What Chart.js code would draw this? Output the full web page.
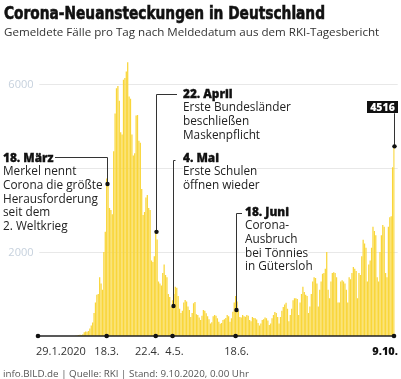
<!DOCTYPE html>
<html lang="de">
<head>
<meta charset="utf-8">
<title>Corona-Neuansteckungen in Deutschland</title>
<script src="https://cdn.jsdelivr.net/npm/chart.js@4/dist/chart.umd.min.js"></script>
<style>
  html, body { margin: 0; padding: 0; background: #fff; }
  #wrap { position: relative; width: 401px; height: 379px; overflow: hidden; font-family: "Open Sans", sans-serif; color: #222; }
  #wrap canvas { position: absolute; left: 0; top: 0; }
  .t { position: absolute; white-space: nowrap; margin: 0; }
  #title { left: 4px; top: 3.5px; font: 800 18.5px/18px "Liberation Sans Narrow", "DejaVu Sans Condensed", "Roboto", sans-serif; color: #111; transform-origin: 0 0; -webkit-text-stroke: 0.6px #111; }
  #sub { left: 4px; top: 25px; font-size: 11.6px; line-height: 13px; color: #333; }
  #foot { left: 3px; top: 367.5px; font-size: 9.8px; line-height: 11px; color: #555; }
  .note { font-size: 11.8px; line-height: 13.7px; color: #222; }
  .note span { display: block; width: fit-content; background: #fff; }
  .note b { display: block; width: fit-content; background: #fff; color: #111; font-weight: 800; -webkit-text-stroke: 0.3px #111; }
  #last { left: 367px; top: 101px; width: 31px; height: 12px; background: #111; color: #fff; font: 800 10.5px/12px "Open Sans", sans-serif; text-align: center; }
</style>
</head>
<body>
<div id="wrap">
  <canvas id="chart"></canvas>
  <h1 class="t" id="title">Corona-Neuansteckungen in Deutschland</h1>
  <div class="t" id="sub">Gemeldete Fälle pro Tag nach Meldedatum aus dem RKI-Tagesbericht</div>
  <div class="t note" style="left:3px;top:150.5px"><b>18. März</b><span>Merkel nennt</span><span>Corona die größte</span><span>Herausforderung</span><span>seit dem</span><span>2. Weltkrieg</span></div>
  <div class="t note" style="left:183px;top:86.5px"><b>22. April</b><span>Erste Bundesländer</span><span>beschließen</span><span>Maskenpflicht</span></div>
  <div class="t note" style="left:183px;top:150.5px"><b>4. Mai</b><span>Erste Schulen</span><span>öffnen wieder</span></div>
  <div class="t note" style="left:245px;top:204.5px"><b>18. Juni</b><span>Corona-</span><span>Ausbruch</span><span>bei Tönnies</span><span>in Gütersloh</span></div>
  <div class="t" id="last">4516</div>
  <div class="t" id="foot">info.BILD.de | Quelle: RKI | Stand: 9.10.2020, 0.00 Uhr</div>
</div>
<script>
'use strict';

/* Fälle pro Tag (29.1. – 9.10.2020) */
const casesJan = [2, 0, 1]; // ab 29.1.
const casesFeb = [1, 0, 2, 1, 0, 1, 0, 0, 0, 0, 2, 0, 0, 0, 0, 0, 0, 0, 0, 0, 0, 0, 0, 2, 4, 12, 25, 30, 20];
const casesMar = [40, 90, 110, 100, 120, 180, 250, 320, 550, 800, 980, 1000, 1400, 1250, 1100, 2000,
  2480, 3750, 3600, 3050, 3000, 2900, 4400, 5300, 5900, 5950, 5600, 4850, 4800, 6100, 6140];
const casesApr = [6300, 6520, 5700, 5650, 4800, 4300, 4350, 5250, 5260, 4650, 4600, 3500, 2880, 2950, 3300,
  3360, 3050, 3000, 1800, 1760, 1900, 2480, 2300, 1300, 1250, 1200, 1500, 1700, 1450, 1400];
const casesMay = [1000, 930, 700, 850, 1000, 1170, 1150, 950, 650, 550, 600, 800, 860, 820, 700, 620,
  450, 550, 780, 810, 520, 500, 440, 380, 480, 620, 600, 540, 470, 400, 300];
const casesJun = [330, 470, 500, 480, 420, 340, 290, 310, 380, 400, 430, 500, 470, 340, 420, 580, 800,
  950, 820, 600, 450, 440, 500, 470, 460, 500, 480, 380, 350, 450];
const casesJul = [430, 420, 390, 310, 250, 300, 380, 400, 440, 420, 370, 260, 300, 420, 500, 570, 550,
  450, 300, 450, 600, 690, 750, 790, 650, 350, 500, 650, 850, 900, 900];
const casesAug = [880, 500, 800, 1000, 1170, 1050, 980, 950, 550, 700, 1000, 1300, 1400, 1380, 1250, 700,
  1100, 1300, 1480, 1500, 1600, 2000, 1100, 900, 1300, 1500, 1520, 1500, 1400, 800, 800];
const casesSep = [1300, 1330, 1300, 1250, 1100, 800, 1400, 1350, 1500, 1640, 1600, 1550, 900, 1500, 1450,
  1900, 2290, 2200, 2100, 1300, 1700, 1800, 2100, 2600, 2500, 2400, 1400, 1300, 2000, 2400];
const casesOct = [2640, 2600, 1500, 1400, 2600, 2830, 2850, 4020, 4516]; // bis 9.10.

const months = [
  { m: 1, first: 29, data: casesJan },
  { m: 2, first: 1, data: casesFeb },
  { m: 3, first: 1, data: casesMar },
  { m: 4, first: 1, data: casesApr },
  { m: 5, first: 1, data: casesMay },
  { m: 6, first: 1, data: casesJun },
  { m: 7, first: 1, data: casesJul },
  { m: 8, first: 1, data: casesAug },
  { m: 9, first: 1, data: casesSep },
  { m: 10, first: 1, data: casesOct },
];

const days = [];
const cases = [];
months.forEach((mo) => {
  mo.data.forEach((v, i) => { days.push(`${mo.first + i}.${mo.m}.`); cases.push(v); });
});

/* Achsenbeschriftungen */
const tickDays = ['29.1.', '18.3.', '22.4.', '4.5.', '18.6.', '9.10.'];
const tickTexts = ['29.1.2020', '18.3.', '22.4.', '4.5.', '18.6.', '9.10.'];
const yTicks = [2000, 4000, 6000];

/* Ereignisse: Tag und Höhe des Markierungspunkts */
const eventDays = ['18.3.', '22.4.', '4.5.', '18.6.', '9.10.'];
const eventMarks = [3620, 2480, 715, 620, 4516];

/* ---- Layout (Pixel) ---- */
const EVENT_LAYOUT = [
  { fromX: 55, hy: 157 },
  { fromX: 177, hy: 94.3 },
  { fromX: 175.5, hy: 159.5 },
  { fromX: 242, hy: 213.3 },
  { fromX: null, hy: 113 },
];
const TICK_LAYOUT = [
  { align: 'left', dx: -2, bold: false },
  { align: 'center', dx: 0, bold: false },
  { align: 'right', dx: 4, bold: false },
  { align: 'center', dx: 2, bold: false },
  { align: 'center', dx: 1, bold: false },
  { align: 'right', dx: 4, bold: true },
];

const YELLOW = '#f9d63a';
const INK = '#222';

/* Gitterlinien und Y-Beschriftung (hinter den Balken) */
const grid = {
  id: 'grid',
  beforeDatasetsDraw(chart) {
    const { ctx, chartArea, scales: { y } } = chart;
    ctx.save();
    ctx.strokeStyle = '#e8e8e8';
    ctx.lineWidth = 1;
    ctx.font = '400 11px "Open Sans", sans-serif';
    ctx.fillStyle = '#c6d1dd';
    ctx.textAlign = 'right';
    ctx.textBaseline = 'middle';
    yTicks.forEach((v) => {
      const py = Math.round(y.getPixelForValue(v)) + 0.5;
      ctx.beginPath();
      ctx.moveTo(chartArea.left + 2, py);
      ctx.lineTo(chartArea.right + 3, py);
      ctx.stroke();
      ctx.fillText(String(v), 33.5, py);
    });
    ctx.restore();
  },
};

/* Nulllinie, Datumsbeschriftung, Hinweislinien */
const annotations = {
  id: 'annotations',
  afterDatasetsDraw(chart) {
    const { ctx, scales: { x, y } } = chart;
    ctx.save();
    const y0 = y.getPixelForValue(0);
    ctx.strokeStyle = INK;
    ctx.lineWidth = 1.3;
    ctx.beginPath();
    ctx.moveTo(x.getPixelForValue(0), y0);
    ctx.lineTo(x.getPixelForValue(days.length - 1), y0);
    ctx.stroke();
    ctx.fillStyle = '#111';
    tickDays.forEach((d) => {
      ctx.beginPath();
      ctx.arc(x.getPixelForValue(days.indexOf(d)), y0, 2.3, 0, Math.PI * 2);
      ctx.fill();
    });
    ctx.textBaseline = 'alphabetic';
    tickDays.forEach((d, i) => {
      const L = TICK_LAYOUT[i];
      ctx.font = `${L.bold ? 800 : 400} 11px "Open Sans", sans-serif`;
      ctx.fillStyle = L.bold ? '#111' : '#333';
      ctx.textAlign = L.align;
      ctx.fillText(tickTexts[i], x.getPixelForValue(days.indexOf(d)) + L.dx, 355);
    });
    ctx.strokeStyle = '#333';
    ctx.lineWidth = 1;
    eventDays.forEach((d, i) => {
      const L = EVENT_LAYOUT[i];
      const px = Math.round(x.getPixelForValue(days.indexOf(d))) + 0.5;
      const py = y.getPixelForValue(eventMarks[i]);
      ctx.beginPath();
      if (L.fromX !== null) ctx.moveTo(L.fromX, Math.round(L.hy) + 0.5);
      else ctx.moveTo(px, L.hy);
      ctx.lineTo(px, Math.round(L.hy) + 0.5);
      ctx.lineTo(px, py);
      ctx.stroke();
      ctx.fillStyle = '#111';
      ctx.beginPath();
      ctx.arc(px, py, 2.2, 0, Math.PI * 2);
      ctx.fill();
    });
    ctx.restore();
  },
};

new Chart(document.getElementById('chart'), {
  type: 'bar',
  data: {
    labels: days,
    datasets: [{
      data: cases,
      backgroundColor: YELLOW,
      borderWidth: 0,
      barPercentage: 0.9,
      categoryPercentage: 1,
    }],
  },
  options: {
    responsive: true,
    maintainAspectRatio: false,
    animation: false,
    layout: { padding: { left: 37.3, right: 6.3, top: 42, bottom: 43 } },
    plugins: { legend: { display: false }, tooltip: { enabled: false } },
    scales: {
      x: { display: false },
      y: { display: false, min: 0, max: 7000 },
    },
  },
  plugins: [grid, annotations],
});

/* Titel auf die Breite des Originals bringen */
const title = document.getElementById('title');
const tw = title.getBoundingClientRect().width;
if (tw > 0) title.style.transform = `scaleX(${321 / tw})`;
</script>
</body>
</html>
